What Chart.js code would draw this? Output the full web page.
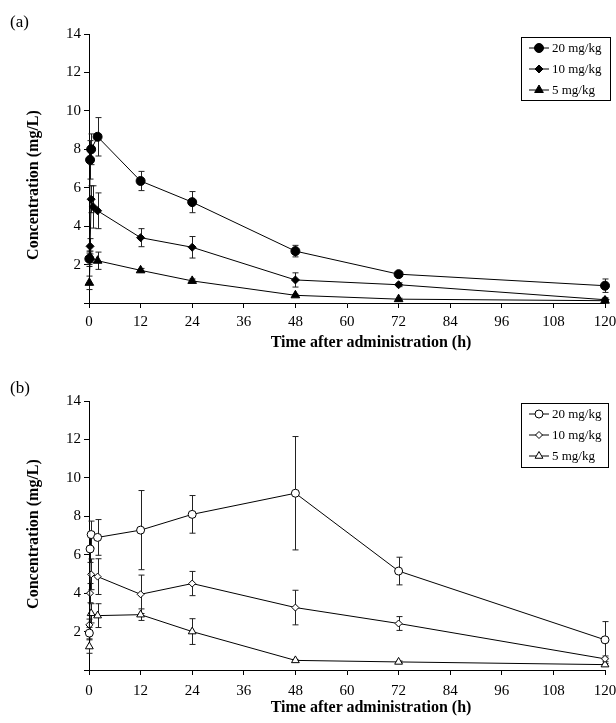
<!DOCTYPE html>
<html>
<head>
<meta charset="utf-8">
<script src="https://cdn.jsdelivr.net/npm/chart.js@4"></script>
<style>
  body { margin: 0; background: #fff; }
  #wrap { position: relative; width: 616px; height: 723px; font-family: "Liberation Serif", "Times New Roman", serif; color: #000; }
  .panel { position: absolute; left: 0; width: 616px; }
  .lbl { position: absolute; font-size: 17px; transform: translateY(-50%); }
  .xt { position: absolute; font-weight: bold; font-size: 16px; white-space: nowrap; transform: translate(-50%, -50%); }
  .yt { position: absolute; font-weight: bold; font-size: 16px; white-space: nowrap; transform: translate(-50%, -50%) rotate(-90deg); }
</style>
</head>
<body>
<div id="wrap">
  <div class="panel" style="top:0;height:362px"><canvas id="chartA"></canvas></div>
  <div class="panel" style="top:362px;height:361px"><canvas id="chartB"></canvas></div>
  <div class="lbl" style="left:10px;top:22px">(a)</div>
  <div class="lbl" style="left:10px;top:388px">(b)</div>
  <div class="yt" style="left:33px;top:185px">Concentration (mg/L)</div>
  <div class="yt" style="left:33px;top:534px">Concentration (mg/L)</div>
  <div class="xt" style="left:371px;top:342px">Time after administration (h)</div>
  <div class="xt" style="left:371px;top:707px">Time after administration (h)</div>
</div>
<script>
// sampling times (h)
const times = [0.083, 0.25, 0.5, 1, 2, 12, 24, 48, 72, 120];
const doses = ["20 mg/kg", "10 mg/kg", "5 mg/kg"];

// (a) mean and SD
const a20 = [2.3, 7.45, 8.0, null, 8.65, 6.35, 5.25, 2.7, 1.5, 0.9];
const a20sd = [0.3, 1.0, 0.8, null, 1.0, 0.5, 0.55, 0.3, 0.1, 0.35];
const a10 = [2.3, 2.95, 5.4, 5.0, 4.8, 3.4, 2.9, 1.2, 0.95, 0.17];
const a10sd = [0.4, 0.4, 0.7, 1.1, 0.93, 0.47, 0.56, 0.37, 0.1, 0.1];
const a5 = [1.05, 2.4, null, null, 2.2, 1.7, 1.15, 0.4, 0.2, 0.12];
const a5sd = [0.35, 0.3, null, null, 0.45, 0.1, 0.1, 0.05, 0.05, 0.05];

// (b) mean and SD
const b20 = [1.92, 6.3, 7.05, null, 6.9, 7.28, 8.1, 9.2, 5.15, 1.57];
const b20sd = [0.3, 0.7, 0.7, null, 0.93, 2.06, 0.98, 2.95, 0.72, 0.95];
const b10 = [2.35, 4.0, 4.98, null, 4.86, 3.94, 4.5, 3.25, 2.42, 0.58];
const b10sd = [0.3, 0.5, 0.8, null, 0.93, 1.0, 0.63, 0.9, 0.36, 0.15];
const b5 = [1.22, null, 2.95, null, 2.83, 2.88, 2.0, 0.5, 0.42, 0.28];
const b5sd = [0.35, null, 0.5, null, 0.62, 0.3, 0.67, 0.05, 0.05, 0.05];

const yTicks = [0, 2, 4, 6, 8, 10, 12, 14];
const font = "'Liberation Serif', 'Times New Roman', serif";

function pts(vals, sd) {
    return times.map((t, i) => ({ x: t, y: vals[i], e: sd[i] })).filter(p => p.y !== null);
}

function shape(ctx, style, r, x, y) {
    ctx.beginPath();
    if (style === "circle") {
        ctx.arc(x, y, r, 0, Math.PI * 2);
    } else if (style === "rectRot") {
        ctx.moveTo(x, y - r); ctx.lineTo(x + r, y); ctx.lineTo(x, y + r); ctx.lineTo(x - r, y);
        ctx.closePath();
    } else {
        ctx.moveTo(x, y - r); ctx.lineTo(x + r * 0.866, y + r * 0.5); ctx.lineTo(x - r * 0.866, y + r * 0.5);
        ctx.closePath();
    }
    ctx.fill();
    ctx.stroke();
}

// error bars
const errorBars = {
    id: "errorBars",
    beforeDatasetsDraw(chart) {
        const { ctx, scales: { x, y } } = chart;
        ctx.save();
        ctx.strokeStyle = "#222";
        ctx.lineWidth = 1;
        chart.data.datasets.forEach(ds => {
            ds.data.forEach(p => {
                if (!p.e) return;
                const px = Math.round(x.getPixelForValue(p.x)) + 0.5;
                const top = y.getPixelForValue(p.y + p.e);
                const bot = y.getPixelForValue(Math.max(p.y - p.e, 0));
                ctx.beginPath();
                ctx.moveTo(px, top); ctx.lineTo(px, bot);
                ctx.moveTo(px - 3, top); ctx.lineTo(px + 3, top);
                ctx.moveTo(px - 3, bot); ctx.lineTo(px + 3, bot);
                ctx.stroke();
            });
        });
        ctx.restore();
    }
};

// boxed legend with line + marker
const boxLegend = {
    id: "boxLegend",
    afterDraw(chart, args, opts) {
        const { ctx } = chart;
        const [bx, by, bw, bh] = opts.box;
        ctx.save();
        ctx.strokeStyle = "#000";
        ctx.lineWidth = 1;
        ctx.strokeRect(bx + 0.5, by + 0.5, bw, bh);
        ctx.font = "13px " + font;
        ctx.textBaseline = "middle";
        chart.data.datasets.forEach((ds, i) => {
            const cy = by + 11 + i * 21;
            ctx.beginPath();
            ctx.moveTo(bx + 8, cy); ctx.lineTo(bx + 28, cy);
            ctx.stroke();
            ctx.fillStyle = ds.pointBackgroundColor;
            shape(ctx, ds.pointStyle, ds.pointRadius, bx + 18, cy);
            ctx.fillStyle = "#000";
            ctx.fillText(ds.label, bx + 31, cy + 1);
        });
        ctx.restore();
    }
};

function series(label, data, style, r, fill) {
    return {
        label: label,
        data: data,
        borderColor: "#000",
        borderWidth: 1,
        pointStyle: style,
        pointRadius: r,
        pointBackgroundColor: fill,
        pointBorderColor: "#000",
        pointBorderWidth: 1,
        tension: 0,
        clip: false,
    };
}

function makeChart(id, datasets, top, xHeight, tickPad, box) {
    return new Chart(document.getElementById(id), {
        type: "line",
        data: { datasets: datasets },
        plugins: [errorBars, boxLegend],
        options: {
            responsive: true,
            maintainAspectRatio: false,
            animation: false,
            events: [],
            layout: { padding: { top: top, right: 11, left: 0, bottom: 0 } },
            plugins: { legend: { display: false }, tooltip: { enabled: false }, boxLegend: { box: box } },
            scales: {
                x: {
                    type: "linear",
                    min: 0,
                    max: 120,
                    afterFit(s) { s.height = xHeight; s.paddingLeft = 0; s.paddingRight = 0; },
                    ticks: { stepSize: 12, color: "#000", padding: tickPad, font: { family: font, size: 15 } },
                    grid: { drawOnChartArea: false, color: "#000", tickLength: 5 },
                    border: { color: "#000", width: 1 },
                },
                y: {
                    min: 0,
                    max: 14,
                    afterFit(s) { s.width = 89; },
                    afterBuildTicks(s) { s.ticks = yTicks.map(v => ({ value: v })); },
                    ticks: {
                        color: "#000",
                        padding: 3,
                        font: { family: font, size: 15 },
                        callback: v => (v === 0 ? "" : v),
                    },
                    grid: { drawOnChartArea: false, color: "#000", tickLength: 5 },
                    border: { color: "#000", width: 1 },
                },
            },
        },
    });
}

makeChart("chartA", [
    series(doses[0], pts(a20, a20sd), "circle", 4.5, "#000"),
    series(doses[1], pts(a10, a10sd), "rectRot", 4, "#000"),
    series(doses[2], pts(a5, a5sd), "triangle", 5, "#000"),
], 34, 59, 5, [521, 37, 89, 63]);

makeChart("chartB", [
    series(doses[0], pts(b20, b20sd), "circle", 4, "#fff"),
    series(doses[1], pts(b10, b10sd), "rectRot", 3.5, "#fff"),
    series(doses[2], pts(b5, b5sd), "triangle", 4.5, "#fff"),
], 39, 53, 7, [521, 41, 87, 64]);
</script>
</body>
</html>
